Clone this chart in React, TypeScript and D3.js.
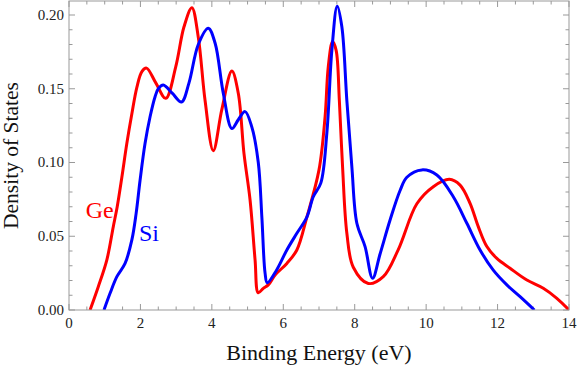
import React, { useRef, useEffect } from "react";
import * as d3 from "d3";

// Ge (red) density of states
const geEnergy = [
  0.59, 0.82, 1.06, 1.24, 1.35, 1.48, 1.62, 1.76, 1.9, 2.04, 2.17, 2.43, 2.71, 2.99, 3.22, 3.44, 3.62,
  3.81, 4.04, 4.28, 4.56, 4.74, 4.9, 5.07, 5.21, 5.3, 5.44, 5.58, 5.77, 6.1, 6.38, 6.66, 7.0, 7.17, 7.26,
  7.38, 7.48, 7.57, 7.66, 7.78, 7.96, 8.38, 8.8, 9.22, 9.74, 10.2, 10.65, 10.95, 11.23, 11.46, 11.7,
  11.98, 12.35, 12.82, 13.28, 13.66, 14.0,
];
const geDos = [
  0, 0.0158, 0.034, 0.0565, 0.07, 0.09, 0.113, 0.133, 0.151, 0.1616, 0.164, 0.154, 0.1435, 0.165, 0.192,
  0.205, 0.185, 0.142, 0.108, 0.136, 0.162, 0.147, 0.106, 0.0746, 0.034, 0.0117, 0.0147, 0.017, 0.0237,
  0.0316, 0.0407, 0.063, 0.095, 0.131, 0.165, 0.182, 0.176, 0.142, 0.097, 0.052, 0.029, 0.018, 0.0226,
  0.041, 0.072, 0.0836, 0.0886, 0.0847, 0.0723, 0.0565, 0.043, 0.035, 0.0283, 0.0203, 0.0147, 0.0079, 0,
];

// Si (blue)
const siEnergy = [
  0.98, 1.15, 1.34, 1.57, 1.76, 1.88, 1.99, 2.13, 2.27, 2.41, 2.5, 2.64, 2.89, 3.15, 3.36, 3.62, 3.9,
  4.09, 4.32, 4.56, 4.74, 4.93, 5.12, 5.3, 5.4, 5.49, 5.55, 5.81, 6.1, 6.38, 6.66, 6.84, 7.05, 7.22, 7.36,
  7.51, 7.64, 7.78, 7.92, 8.06, 8.29, 8.5, 8.71, 8.99, 9.27, 9.46, 9.88, 10.3, 10.76, 11.14, 11.51, 11.88,
  12.26, 12.63, 13.03,
];
const siDos = [
  0, 0.0113, 0.0226, 0.0316, 0.0475, 0.0655, 0.088, 0.113, 0.131, 0.1446, 0.15, 0.1525, 0.147, 0.141,
  0.154, 0.18, 0.191, 0.181, 0.147, 0.123, 0.129, 0.1345, 0.124, 0.1, 0.063, 0.025, 0.0185, 0.027, 0.0407,
  0.052, 0.063, 0.0768, 0.086, 0.12, 0.176, 0.206, 0.192, 0.142, 0.097, 0.0588, 0.043, 0.0215, 0.038,
  0.061, 0.081, 0.09, 0.095, 0.0915, 0.0768, 0.0588, 0.0407, 0.027, 0.017, 0.009, 0,
];

const xTicks = [0, 2, 4, 6, 8, 10, 12, 14];
const yTicks = [0, 0.05, 0.1, 0.15, 0.2];

const series = [
  { name: "Ge", x: geEnergy, y: geDos, color: "#ff0000" },
  { name: "Si", x: siEnergy, y: siDos, color: "#0000ff" },
];

const App = () => {
  const svgRef = useRef<SVGSVGElement | null>(null);

  useEffect(() => {
    const width = 581;
    const height = 371;
    const margin = { top: 1, right: 12, bottom: 61, left: 69 };
    const innerWidth = width - margin.left - margin.right;
    const innerHeight = height - margin.top - margin.bottom;

    d3.select(svgRef.current).selectAll("*").remove();

    const svg = d3.select(svgRef.current).attr("width", width).attr("height", height);
    const chart = svg.append("g").attr("transform", `translate(${margin.left},${margin.top})`);

    const xScale = d3.scaleLinear().domain([0, 14]).range([0, innerWidth]);
    const yScale = d3.scaleLinear().domain([0, 0.2095]).range([innerHeight, 0]);

    const frameColor = "#999";
    const font = "'Liberation Serif', 'Times New Roman', serif";

    const xMinor = d3.range(0, 14.01, 0.5);
    const yMinor = d3.range(0, 0.2095, 0.01);

    // ticks, inward on all four sides
    const tickGroup = chart.append("g").attr("stroke", frameColor).attr("stroke-width", 1);
    xMinor.forEach((t) => {
      const len = xTicks.some((m) => Math.abs(m - t) < 1e-6) ? 6 : 3.5;
      const x = xScale(t);
      tickGroup.append("line").attr("x1", x).attr("x2", x).attr("y1", innerHeight).attr("y2", innerHeight - len);
      tickGroup.append("line").attr("x1", x).attr("x2", x).attr("y1", 0).attr("y2", len);
    });
    yMinor.forEach((t) => {
      const len = yTicks.some((m) => Math.abs(m - t) < 1e-6) ? 6 : 3.5;
      const y = yScale(t);
      tickGroup.append("line").attr("x1", 0).attr("x2", len).attr("y1", y).attr("y2", y);
      tickGroup.append("line").attr("x1", innerWidth).attr("x2", innerWidth - len).attr("y1", y).attr("y2", y);
    });

    // tick labels
    chart
      .append("g")
      .selectAll("text")
      .data(xTicks)
      .join("text")
      .attr("x", (d) => xScale(d))
      .attr("y", innerHeight + 18)
      .attr("text-anchor", "middle")
      .style("font-family", font)
      .style("font-size", "15px")
      .attr("fill", "#222")
      .text((d) => d);

    chart
      .append("g")
      .selectAll("text")
      .data(yTicks)
      .join("text")
      .attr("x", -5)
      .attr("y", (d) => yScale(d))
      .attr("dy", "0.33em")
      .attr("text-anchor", "end")
      .style("font-family", font)
      .style("font-size", "15px")
      .attr("fill", "#222")
      .text((d) => d.toFixed(2));

    // curves (clipped to the frame)
    svg
      .append("clipPath")
      .attr("id", "plotClip")
      .append("rect")
      .attr("width", innerWidth)
      .attr("height", innerHeight);
    const curves = chart.append("g").attr("clip-path", "url(#plotClip)");
    series.forEach((s) => {
      const pts = s.x.map((x, i) => [x, s.y[i]] as [number, number]);
      const line = d3
        .line<[number, number]>()
        .x((d) => xScale(d[0]))
        .y((d) => yScale(d[1]))
        .curve(d3.curveCatmullRom.alpha(0.5));
      curves
        .append("path")
        .datum(pts)
        .attr("d", line)
        .attr("fill", "none")
        .attr("stroke", s.color)
        .attr("stroke-width", 3)
        .attr("stroke-linejoin", "round");
    });

    // frame
    chart
      .append("rect")
      .attr("width", innerWidth)
      .attr("height", innerHeight)
      .attr("fill", "none")
      .attr("stroke", frameColor)
      .attr("stroke-width", 1);

    // series labels
    chart
      .append("text")
      .attr("x", xScale(0.47))
      .attr("y", yScale(0.0625))
      .style("font-family", font)
      .style("font-size", "24px")
      .attr("fill", "#ff0000")
      .text("Ge");
    chart
      .append("text")
      .attr("x", xScale(1.96))
      .attr("y", yScale(0.047))
      .style("font-family", font)
      .style("font-size", "24px")
      .attr("fill", "#0000ff")
      .text("Si");

    // axis titles
    svg
      .append("text")
      .attr("x", margin.left + innerWidth / 2)
      .attr("y", 360)
      .attr("text-anchor", "middle")
      .style("font-family", font)
      .style("font-size", "22px")
      .attr("fill", "#111")
      .text("Binding Energy (eV)");
    svg
      .append("text")
      .attr("transform", `translate(18, ${margin.top + innerHeight / 2}) rotate(-90)`)
      .attr("text-anchor", "middle")
      .style("font-family", font)
      .style("font-size", "21.5px")
      .attr("fill", "#111")
      .text("Density of States");
  }, []);

  return (
    <div style={{ position: "fixed", left: 0, top: 0, width: 581, height: 371, background: "#fff" }}>
      <svg ref={svgRef} style={{ display: "block" }} />
    </div>
  );
};

export default App;
